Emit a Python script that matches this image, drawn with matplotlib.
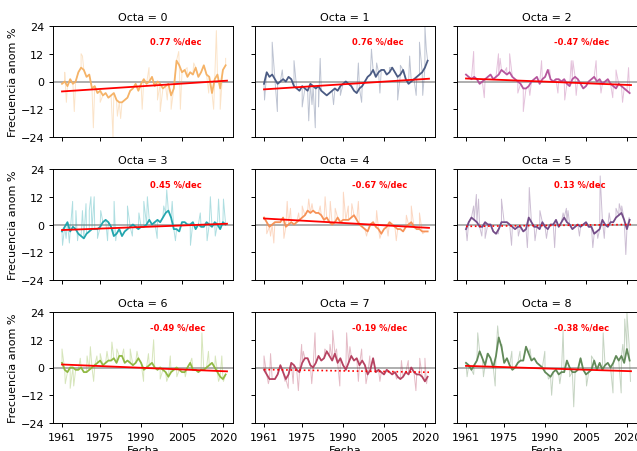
import numpy as np
import matplotlib
matplotlib.use("Agg")
import matplotlib.pyplot as plt

plt.rcParams['font.family'] = ['DejaVu Sans']

years = list(range(1961, 2022))

octas = [0, 1, 2, 3, 4, 5, 6, 7, 8]
colors = ["#f5b062", "#44557f", "#b3509a", "#1ba3ab", "#f68e51",
          "#6e4583", "#8cb63c", "#b33b5b", "#5b8552"]
trend_slope = [0.77, 0.76, -0.47, 0.45, -0.67, 0.13, -0.49, -0.19, -0.38]   # %/dec
trend_start = [-4.3, -3.4, 1.3, -2.4, 2.6, -0.8, 1.3, -0.9, 0.7]
trend_signif = [True, True, True, True, True, False, True, False, True]

# smoothed (thick) series, yearly reading 1961..2021
smooth_0 = [-1, 0, -2, 1, -1, 0, 4, 6, 5, 2, 3, -3, -2, -5, -4, -6, -5, -7, -6, -5,
            -8, -9, -9, -8, -7, -4, -3, -1, -4, -1, 1, -1, 0, 2, -2, 0, -1, -3, -2, -1,
            -6, -3, 9, 7, 4, 5, 2, 4, 3, 6, 2, 4, 7, 3, 2, -5, 1, 3, -3, 5, 7]
smooth_1 = [-1, 4, 2, 3, 1, -1, 0, 1, 0, 2, 1, -2, -3, -4, -2, -3, -4, -1, -2, -3,
            -2, -4, -5, -6, -5, -4, -3, -4, -2, -1, 0, -1, -2, -4, -5, -3, -2, 0, 2, 3,
            5, 2, 4, 5, 5, 3, 4, 6, 4, 2, 3, 5, 1, -1, 0, 1, 2, 3, 4, 6, 9]
smooth_2 = [3, 2, 1, 2, 1, -1, 0, 1, 2, 3, 1, 2, 3, 5, 4, 3, 4, 2, 1, 0,
            -1, -3, -3, -2, 0, 1, 2, -1, 1, 2, 5, 1, 0, 1, 1, 0, 1, -1, -2, 1,
            2, 1, -1, -3, -2, 0, 1, 2, 0, 1, -1, 0, 1, -1, -2, -3, -1, -2, -3, -4, -5]
smooth_3 = [-3, -1, 1, -3, -1, -2, -4, -5, -6, -4, -3, -2, -2, -2, -1, 1, 2, 1, -1, -5,
            -4, -2, -5, -3, -2, -1, 0, -1, -2, -1, -1, 0, 2, 0, 1, 2, 1, 3, 5, 6,
            3, -2, -2, -3, 1, 1, 0, 0, 1, -2, 0, -1, -1, 1, 0, -1, 1, 0, -2, 1, 0]
smooth_4 = [3, 1, -1, 0, 1, 1, 1, 3, -1, 0, 1, 0, 1, 2, 3, 4, 6, 5, 6, 5,
            5, 4, 2, 3, 1, 0, 1, 3, 1, 2, 2, 2, 3, 4, 2, 0, -1, -2, -3, 0,
            1, -1, -2, -4, -2, -1, 1, 0, -1, -2, -2, -3, -1, 0, 1, -1, -2, -2, -3, -3, -3]
smooth_5 = [-2, 1, 3, 2, 1, -1, -1, 1, 0, 0, -3, -4, -2, 1, 1, 1, 0, -1, -2, -1,
            -1, -3, -2, 3, 1, -1, -1, -2, 1, -1, -2, 0, 0, 2, -1, 1, 3, 1, 0, -2,
            -1, 0, -1, 0, 1, -1, -1, -4, -3, -2, 2, 0, -1, 1, 1, 3, 4, 5, 2, -2, 2]
smooth_6 = [2, -1, -2, 0, 0, -1, -1, 0, -2, -2, -1, 0, 1, 2, 3, 1, 2, 3, 3, 4,
            2, 5, 5, 2, 3, 2, 1, 2, 4, 2, -1, 0, 1, 2, 0, -1, 0, -1, -2, -4,
            -2, -1, 0, -1, -2, -2, 0, 2, -1, -1, -2, -1, -1, 0, 1, 2, 0, -2, -4, -5, -3]
smooth_7 = [-1, -3, -5, -5, -5, -3, 1, -2, -5, -3, 2, 1, -1, -2, 2, 4, 4, 1, 0, 2,
            5, 3, 4, 7, 5, 3, 6, 2, 4, 1, -1, 2, 5, 3, 4, 1, 3, 1, -3, -1,
            4, -2, -1, -2, -3, -1, -2, -3, -2, -4, -5, -4, -2, -3, 0, -2, -3, -3, -4, -6, -4]
smooth_8 = [2, 1, -1, 1, 3, 7, 4, 1, 6, 4, 0, 5, 13, 9, 2, 4, 1, -1, 0, 2,
            3, 3, 9, 6, 3, 4, 2, 1, 0, -2, -3, -4, -2, -1, -3, -2, -2, 3, 0, -2,
            -2, -1, 4, -1, -3, -2, -1, 3, -1, 2, -1, 1, 2, 0, 2, 5, 3, 5, 2, 8, 3]

# monthly extremes of the raw (thin) series: (fractional year, anomaly %)
spikes_0 = [(1962.0, 4), (1962.6, -9), (1965.5, -13), (1968.0, 12), (1968.5, 11), (1972.5, -20),
            (1975.0, -9), (1979.7, -24), (1981.3, -15), (1982.5, -16), (1990.4, -12), (1992.9, 6),
            (1996.0, -8), (1997.0, -13), (1999.6, -8), (2001.0, -12), (2003.8, 13), (2004.4, -12),
            (2006.9, 6), (2009.3, 8), (2013.0, 7), (2014.8, -5), (2016.6, -12), (2017.6, 22),
            (2019.0, -12), (2021.0, 10)]
spikes_1 = [(1961.2, -8), (1964.0, 17), (1965.9, -13), (1967.7, 5), (1972.0, 9), (1975.0, -11),
            (1977.4, -17), (1978.6, -10), (1979.8, -20), (1981.0, -11), (1981.6, 10), (1986.5, -10),
            (1989.0, -6), (1995.6, 8), (1996.8, -9), (2000.4, 14), (2002.3, 8), (2003.5, -5),
            (2007.0, 6), (2010.0, -8), (2011.0, 7), (2014.4, 11), (2016.8, -6), (2018.0, 17),
            (2019.2, -6), (2020.0, 24), (2020.5, 14)]
spikes_2 = [(1963.8, 13), (1967.7, -7), (1972.9, 12), (1973.5, 10), (1975.9, 6), (1977.0, 12),
            (1980.0, -5), (1982.0, -13), (1984.4, -6), (1988.7, 9), (1991.7, 5), (1994.7, -5),
            (1997.2, -8), (1999.6, 9), (2000.2, 9), (2001.4, -6), (2008.7, 9), (2010.5, -5),
            (2014.8, -7), (2016.0, 5), (2018.4, -9), (2020.6, 6)]
spikes_3 = [(1961.2, -9), (1962.5, -6), (1963.7, -8), (1964.9, 10), (1966.1, 6), (1966.7, -7),
            (1968.5, 6), (1969.8, 9), (1971.0, 6), (1971.6, 12), (1972.8, 12), (1974.0, -6),
            (1975.2, 6), (1977.7, -7), (1980.1, 10), (1980.7, -7), (1985.0, 8), (1986.8, -5),
            (1989.2, 5), (1991.0, 10), (1992.3, 12), (1995.9, -6), (1998.3, 8), (1999.4, 15),
            (2001.4, 10), (2002.6, -7), (2008.1, -9), (2011.7, 5), (2014.2, -7), (2015.4, 12),
            (2017.2, -5), (2018.4, 11), (2020.2, 11)]
spikes_4 = [(1962.0, -4), (1963.4, -5), (1964.6, -8), (1968.3, -6), (1969.5, 10), (1970.7, 7),
            (1973.7, 5), (1975.0, 8), (1977.4, 11), (1978.6, 9), (1981.6, 8), (1983.4, 12),
            (1985.3, 10), (1987.1, 7), (1990.1, 14), (1991.9, 8), (1993.2, 9), (1995.6, 10),
            (1998.6, -5), (2002.3, 6), (2003.5, -6), (2006.5, -5), (2009.5, -7), (2013.2, 4),
            (2015.0, 8), (2018.0, 5), (2019.2, -4)]
spikes_5 = [(1961.4, -7), (1963.8, 8), (1964.8, 13), (1965.6, 11), (1966.8, -5), (1968.0, -6),
            (1972.9, -4), (1974.0, 11), (1977.7, -9), (1980.2, -5), (1983.5, -10), (1984.2, 16),
            (1986.3, -7), (1988.1, 6), (1990.5, -6), (1993.5, -10), (1996.6, 5), (1997.8, 7),
            (1998.4, 6), (2002.6, -5), (2007.5, -10), (2009.3, -6), (2010.2, 21), (2011.7, -6),
            (2013.5, 5), (2016.0, 7), (2017.2, 9), (2018.1, 8), (2019.6, -13), (2020.8, 3)]
spikes_6 = [(1961.0, 8), (1962.2, -7), (1964.0, -9), (1965.3, -8), (1967.7, 4), (1970.2, 5),
            (1971.4, 9), (1972.6, -6), (1973.8, 5), (1975.0, 6), (1977.5, 7), (1979.3, 11),
            (1981.1, 8), (1983.6, 8), (1986.0, 8), (1988.5, 7), (1990.9, -6), (1992.7, 6),
            (1994.6, 12), (1997.0, -5), (1999.4, -6), (2000.7, 5), (2003.1, -4), (2006.2, -4),
            (2008.6, 4), (2012.3, 15), (2014.7, 7), (2017.2, 5), (2018.4, -6), (2019.6, 5),
            (2020.2, -6)]
spikes_7 = [(1961.0, 5), (1962.6, -7), (1963.4, 6), (1965.0, -5), (1968.7, -6), (1969.9, -9),
            (1971.7, -7), (1973.6, -10), (1974.8, 10), (1975.4, 7), (1978.5, -7), (1979.7, 15),
            (1983.3, 8), (1985.2, 10), (1986.2, 16), (1987.6, 8), (1988.8, -8), (1991.3, 15),
            (1992.5, 9), (1995.6, -6), (1996.8, 8), (1998.4, -7), (1999.8, 5), (2003.5, -6),
            (2009.6, -5), (2011.4, 3), (2013.9, 3), (2016.7, -10), (2018.1, 4), (2020.0, 4),
            (2020.6, -7)]
spikes_8 = [(1961.4, -4), (1963.8, -3), (1965.3, 15), (1967.4, -4), (1968.7, 6), (1971.7, -8),
            (1972.6, 18), (1974.1, 10), (1977.8, 7), (1980.8, 7), (1984.5, 8), (1989.9, 7),
            (1991.2, -5), (1992.4, -12), (1995.4, -7), (1996.6, 16), (1999.0, -4), (2000.5, -17),
            (2005.2, -8), (2007.0, 5), (2011.3, 15), (2014.9, -11), (2016.3, 5), (2017.9, -11),
            (2018.5, 10), (2019.2, 21), (2020.0, 24), (2020.8, 10), (2021.3, -6)]

smooth = [smooth_0, smooth_1, smooth_2, smooth_3, smooth_4, smooth_5, smooth_6, smooth_7, smooth_8]
spikes = [spikes_0, spikes_1, spikes_2, spikes_3, spikes_4, spikes_5, spikes_6, spikes_7, spikes_8]

xticks = [1961, 1975, 1990, 2005, 2020]
yticks = [-24, -12, 0, 12, 24]

W, H = 6.37, 4.52
fig = plt.figure(figsize=(W, H), dpi=100)
lefts = [53, 255, 457]
bottoms_top = [27, 170, 313]
aw, ah = 180, 111

axes = []
for i, o in enumerate(octas):
    r, c = divmod(i, 3)
    rect = [lefts[c] / 637, (452 - bottoms_top[r] - ah) / 452, aw / 637, ah / 452]
    ax = fig.add_axes(rect)
    axes.append(ax)
    col = colors[i]
    yrs = np.array(years, dtype=float)
    sm = np.array(smooth[i], dtype=float)
    sx = np.array([s[0] for s in spikes[i]])
    sy = np.array([s[1] for s in spikes[i]], dtype=float)
    tx = np.concatenate([yrs, sx])
    ty = np.concatenate([sm, sy])
    order = np.argsort(tx, kind="stable")
    ax.plot(tx[order], ty[order], color=col, lw=0.7, alpha=0.35, zorder=2)
    ax.axhline(0, color="#999999", lw=1.1, zorder=1)
    ax.plot(yrs, sm, color=col, lw=1.3, alpha=0.95, zorder=3)
    tr_x = np.array([1961.0, 2021.5])
    tr_y = trend_start[i] + trend_slope[i] * (tr_x - 1961.0) / 10.0
    ax.plot(tr_x, tr_y, color="red", lw=1.3 if trend_signif[i] else 1.2,
            ls="-" if trend_signif[i] else ":", zorder=4)
    ax.text(0.54, 0.865, f"{trend_slope[i]:.2f} %/dec", transform=ax.transAxes,
            color="red", fontsize=6, fontweight="bold", ha="left", va="center")
    ax.set_title(f"Octa = {o}", fontsize=8, pad=4)
    ax.set_xlim(1957.7, 2023.7)
    ax.set_ylim(-24, 24)
    ax.set_xticks(xticks)
    ax.set_yticks(yticks)
    ax.tick_params(labelsize=8, length=3, width=0.7)
    for sp in ax.spines.values():
        sp.set_linewidth(0.7)
    if c == 0:
        ax.set_ylabel("Frecuencia anom %", fontsize=8, labelpad=2)
    else:
        ax.tick_params(labelleft=False)
    if r == 2:
        ax.set_xlabel("Fecha", fontsize=8, labelpad=2)
    else:
        ax.tick_params(labelbottom=False)

fig.savefig("out.png", dpi=100)
